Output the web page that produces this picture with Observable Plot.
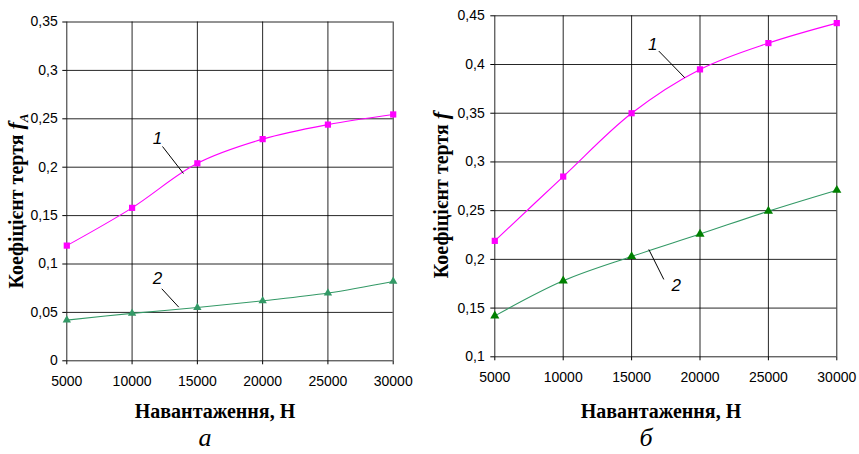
<!DOCTYPE html>
<html>
<head>
<meta charset="utf-8">
<script src="https://cdn.jsdelivr.net/npm/d3@7"></script>
<script src="https://cdn.jsdelivr.net/npm/@observablehq/plot@0.6"></script>
<style>
  body { margin: 0; background: #fff; }
  #wrap { position: relative; width: 859px; height: 454px; overflow: hidden; }
  .panel { position: absolute; top: 0; }
</style>
</head>
<body>
<div id="wrap">
  <div class="panel" id="pa" style="left:0px"></div>
  <div class="panel" id="pb" style="left:420px"></div>
</div>
<script>
// ---- data ----
const loads = [5000, 10000, 15000, 20000, 25000, 30000];
const xTicks = [5000, 10000, 15000, 20000, 25000, 30000];

// panel а: coefficient f_A
const a_curve1 = [0.119, 0.158, 0.204, 0.229, 0.244, 0.2545];
const a_curve2 = [0.042, 0.049, 0.055, 0.062, 0.070, 0.082];
const a_yTicks = [0, 0.05, 0.1, 0.15, 0.2, 0.25, 0.3, 0.35];

// panel б: coefficient f
const b_curve1 = [0.219, 0.285, 0.350, 0.395, 0.422, 0.4425];
const b_curve2 = [0.142, 0.178, 0.203, 0.226, 0.2495, 0.271];
const b_yTicks = [0.1, 0.15, 0.2, 0.25, 0.3, 0.35, 0.4, 0.45];

// curve number labels and their leader lines (data coordinates)
const a_labels = [{t: "1", x: 11945, y: 0.2297}, {t: "2", x: 11945, y: 0.0853}];
const a_leaders = [{x1: 12330, y1: 0.2214, x2: 13936, y2: 0.1935}, {x1: 12274, y1: 0.0744, x2: 13576, y2: 0.0554}];
const b_labels = [{t: "1", x: 16550, y: 0.4203}, {t: "2", x: 18260, y: 0.1732}];
const b_leaders = [{x1: 16988, y1: 0.4138, x2: 18889, y2: 0.3864}, {x1: 16257, y1: 0.2102, x2: 17354, y2: 0.1794}];

const xLabel = "Навантаження, Н";
const yLabelMain = "Коефіцієнт тертя ";

// ---- helpers ----
const toRows = (vals) => loads.map((x, i) => ({x, y: vals[i]}));
const fmtY = d => String(+d.toFixed(2)).replace(".", ",");
const fmtX = d => String(d);

function panel(opts) {
  const s1 = toRows(opts.c1), s2 = toRows(opts.c2);
  const svg = Plot.plot({
    width: opts.width, height: 454,
    marginLeft: opts.ml, marginRight: opts.mr, marginTop: opts.mt, marginBottom: opts.mb,
    style: {fontFamily: "'Liberation Sans', Arial, sans-serif", fontSize: "14px", background: "#fff", color: "#000"},
    x: {domain: [5000, 30000]},
    y: {domain: opts.ydom},
    marks: [
      Plot.gridX(xTicks, {stroke: "#000", strokeOpacity: 0.85, strokeWidth: 1}),
      Plot.gridY(opts.yTicks, {stroke: "#000", strokeOpacity: 0.85, strokeWidth: 1}),
      Plot.axisX(xTicks, {tickSize: 4, tickPadding: 11, tickFormat: fmtX, label: null, fontSize: 14}),
      Plot.axisY(opts.yTicks, {tickSize: 4, tickPadding: opts.ypad, tickFormat: fmtY, label: null, fontSize: 14}),
      Plot.line(s1, {x: "x", y: "y", stroke: "#FF00FF", strokeWidth: 1.1, curve: "catmull-rom"}),
      Plot.line(s2, {x: "x", y: "y", stroke: "#339966", strokeWidth: 1.1, curve: "catmull-rom"}),
      Plot.dot(s1, {x: "x", y: "y", symbol: "square", fill: "#FF00FF", r: 3.5}),
      Plot.dot(s2, {x: "x", y: "y", symbol: "triangle", fill: opts.triFill, r: opts.triR}),
      Plot.link(opts.leaders, {x1: "x1", y1: "y1", x2: "x2", y2: "y2", stroke: "#000", strokeWidth: 1}),
      Plot.text(opts.labels, {x: "x", y: "y", text: "t", fontSize: 17, fontStyle: "italic", fill: "#000"})
    ]
  });
  const g = d3.select(svg);
  const serif = "'Liberation Serif', 'Times New Roman', serif";
  const yl = g.append("text")
    .attr("transform", `translate(${opts.ylx},${opts.yly}) rotate(-90)`)
    .attr("text-anchor", "middle").attr("dy", "0.35em")
    .style("font-family", serif).style("font-weight", "bold").style("font-size", "20px").attr("fill", "#000");
  yl.append("tspan").text(yLabelMain);
  yl.append("tspan").style("font-style", "italic").style("font-size", "22px").text("f");
  if (opts.sub) yl.append("tspan").style("font-style", "italic").style("font-size", "13px").attr("dy", "0.35em").text(opts.sub);
  g.append("text").attr("x", opts.xlx).attr("y", 418).attr("text-anchor", "middle")
    .style("font-family", serif).style("font-weight", "bold").style("font-size", "20px").attr("fill", "#000").text(xLabel);
  g.append("text").attr("x", opts.capx).attr("y", 446).attr("text-anchor", "middle")
    .style("font-family", serif).style("font-style", "italic").style("font-size", "26px").attr("fill", "#000").text(opts.cap);
  return svg;
}

document.getElementById("pa").appendChild(panel({
  width: 420, ml: 66.3, mr: 27.3, mt: 21.5, mb: 93.7, ydom: [0, 0.35], yTicks: a_yTicks, ypad: 5,
  c1: a_curve1, c2: a_curve2, triFill: "#339966", triR: 3.1,
  labels: a_labels, leaders: a_leaders, ylx: 16, yly: 201, sub: "A", xlx: 215, capx: 205, cap: "а"
}));
document.getElementById("pb").appendChild(panel({
  width: 439, ml: 74.3, mr: 22.7, mt: 15.3, mb: 97.7, ydom: [0.1, 0.45], yTicks: b_yTicks, ypad: 6,
  c1: b_curve1, c2: b_curve2, triFill: "#008000", triR: 3.4,
  labels: b_labels, leaders: b_leaders, ylx: 21, yly: 195, sub: null, xlx: 241, capx: 226, cap: "б"
}));
</script>
</body>
</html>
